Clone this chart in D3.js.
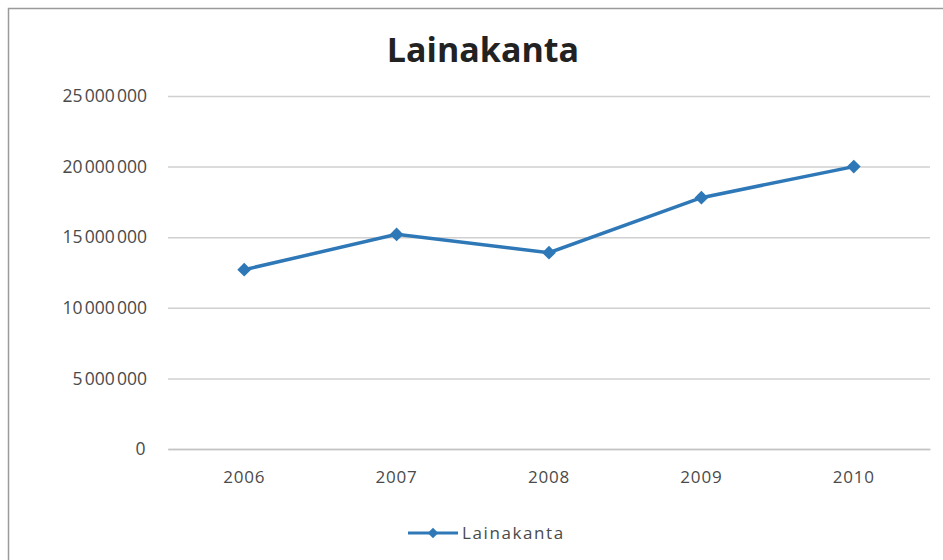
<!DOCTYPE html>
<html>
<head>
<meta charset="utf-8">
<script src="https://cdn.jsdelivr.net/npm/d3@7"></script>
<style>
  body { margin: 0; background: #fff; }
  svg { display: block; font-family: "Open Sans", "Noto Sans", sans-serif; }
</style>
</head>
<body>
<svg id="vis" width="943" height="560"></svg>
<script>
// chart data
var years = ["2006", "2007", "2008", "2009", "2010"];
var loans = [12700000, 15200000, 13900000, 17800000, 20000000];
var yTicks = [0, 5000000, 10000000, 15000000, 20000000, 25000000];
var seriesName = "Lainakanta";

var MARGINS = {top: 96, right: 13, bottom: 111, left: 168};
var width = 943, height = 560;
var FONT = '"Open Sans", "Noto Sans", sans-serif';

var display = d3.select("#vis");
// Finnish style grouping with a narrow space
var fiFormat = d3.formatLocale({decimal: ",", thousands: "\u202f", grouping: [3], currency: ["", "€"]}).format(",d");

// outer chart frame
display.append("rect")
    .attr("x", 8.5).attr("y", 8.5)
    .attr("width", 960).attr("height", 600)
    .attr("fill", "none")
    .attr("stroke", "#9a9a9a")
    .attr("stroke-width", 1.5);

var xScale = d3.scaleBand()
    .domain(years)
    .range([MARGINS.left, width - MARGINS.right]);

var yScale = d3.scaleLinear()
    .domain([0, 25000000])
    .range([height - MARGINS.bottom, MARGINS.top]);

// gridlines + y labels
var yAxis = d3.axisLeft(yScale)
    .tickValues(yTicks)
    .tickFormat(fiFormat)
    .tickSizeInner(-(width - MARGINS.left - MARGINS.right))
    .tickSizeOuter(0)
    .tickPadding(21);

var yg = display.append("g")
    .attr("transform", `translate(${MARGINS.left}, 0)`)
    .call(yAxis)
    .attr("font-family", FONT);
yg.select(".domain").remove();
yg.selectAll(".tick line").attr("stroke", "#d0d0d0").attr("stroke-width", 1.5);
yg.selectAll(".tick text")
    .attr("fill", "#4a4a4a")
    .style("font-size", "17.5px")
    .style("letter-spacing", "1.4px");

// x axis labels
var xAxis = d3.axisBottom(xScale).tickSize(0).tickPadding(22);
var xg = display.append("g")
    .attr("transform", `translate(0, ${height - MARGINS.bottom})`)
    .call(xAxis)
    .attr("font-family", FONT);
xg.select(".domain").attr("stroke", "#c4c4c4").attr("stroke-width", 1.5);
xg.selectAll(".tick text")
    .attr("fill", "#4a4a4a")
    .style("font-size", "17px")
    .style("letter-spacing", "0.8px");

// series line
var lineColor = "#2e78b7";
var line = d3.line()
    .x(function (d, i) { return xScale(years[i]) + xScale.bandwidth() / 2; })
    .y(function (d) { return yScale(d); });

display.append("path")
    .datum(loans)
    .attr("d", line)
    .attr("fill", "none")
    .attr("stroke", lineColor)
    .attr("stroke-width", 3.5);

var diamond = d3.symbol().type(d3.symbolSquare).size(95);
display.selectAll(".marker")
    .data(loans)
    .enter()
    .append("path")
    .attr("class", "marker")
    .attr("d", diamond)
    .attr("transform", function (d, i) {
        return `translate(${xScale(years[i]) + xScale.bandwidth() / 2}, ${yScale(d)}) rotate(45)`;
    })
    .attr("fill", lineColor);

// title
display.append("text")
    .attr("x", 483)
    .attr("y", 62)
    .attr("text-anchor", "middle")
    .style("font-size", "34px")
    .style("font-weight", "bold")
    .attr("fill", "#222")
    .text(seriesName);

// legend
var legend = display.append("g").attr("transform", "translate(408, 533)");
legend.append("line")
    .attr("x1", 0).attr("x2", 50)
    .attr("stroke", lineColor).attr("stroke-width", 3);
legend.append("path")
    .attr("d", d3.symbol().type(d3.symbolSquare).size(55))
    .attr("transform", "translate(25, 0) rotate(45)")
    .attr("fill", lineColor);
legend.append("text")
    .attr("x", 54)
    .attr("y", 0)
    .attr("dy", "0.35em")
    .style("font-size", "17px")
    .style("letter-spacing", "1.6px")
    .attr("fill", "#4a4a4a")
    .text(seriesName);
</script>
</body>
</html>
